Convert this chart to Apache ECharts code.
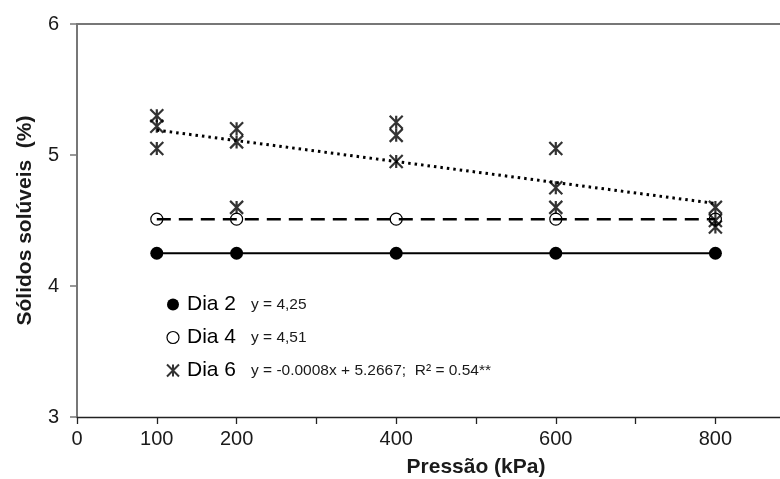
<!DOCTYPE html>
<html>
<head>
<meta charset="utf-8">
<script src="https://cdn.jsdelivr.net/npm/echarts@6/dist/echarts.min.js"></script>
<style>html,body{margin:0;padding:0;background:#fff}#c{width:780px;height:479px}</style>
</head>
<body>
<div id="c"></div>
<script>
const pressures = [100, 200, 400, 600, 800];
const dia2 = [4.25, 4.25, 4.25, 4.25, 4.25];
const dia4 = [4.51, 4.51, 4.51, 4.51, 4.51];
const dia6Rep1 = [5.30, 5.20, 5.25, 5.05, 4.60];
const dia6Rep2 = [5.22, 5.10, 5.15, 4.75, 4.50];
const dia6Rep3 = [5.05, 4.60, 4.95, 4.60, 4.45];
const trendX = [100, 800];
const trendY = [5.19, 4.63];
const xTickLabels = [0, 100, 200, 400, 600, 800];
const legendNames = ['Dia 2', 'Dia 4', 'Dia 6'];
const legendEquations = {
  'Dia 2': 'y = 4,25',
  'Dia 4': 'y = 4,51',
  'Dia 6': 'y = -0.0008x + 5.2667;  R² = 0.54**'
};

const FONT = "'Liberation Sans', Arial, sans-serif";
const STAR = 'path://M0,0L10,10M10,0L0,10M5,0L5,10';

const pairs = (xs, ys) => xs.map((x, i) => [x, ys[i]]);
const dia6 = [].concat(pairs(pressures, dia6Rep1), pairs(pressures, dia6Rep2), pairs(pressures, dia6Rep3));

const chart = echarts.init(document.getElementById('c'), null, {renderer: 'canvas'});
chart.setOption({
  animation: false,
  backgroundColor: '#fff',
  textStyle: {fontFamily: FONT},
  grid: {left: 77, top: 24, width: 798, height: 393, containLabel: false, outerBoundsMode: 'none'},
  xAxis: [{
    type: 'value', min: 0, max: 1000, interval: 100,
    axisLine: {show: true, lineStyle: {color: '#222', width: 1.3}},
    axisTick: {show: true, inside: false, length: 7, lineStyle: {color: '#222', width: 1.3}},
    splitLine: {show: false},
    axisLabel: {
      fontSize: 20, color: '#1a1a1a', margin: 12, fontFamily: FONT,
      formatter: v => xTickLabels.indexOf(v) >= 0 ? String(v) : ''
    },
    name: 'Pressão (kPa)', nameLocation: 'middle', nameGap: 40,
    nameTextStyle: {fontSize: 21, fontWeight: 'bold', color: '#1a1a1a', fontFamily: FONT}
  }, {
    type: 'value', position: 'top', min: 0, max: 1000,
    axisLine: {show: true, onZero: false, lineStyle: {color: '#777', width: 2}},
    axisTick: {show: false}, axisLabel: {show: false}, splitLine: {show: false}
  }],
  yAxis: {
    type: 'value', min: 3, max: 6, interval: 1,
    axisLine: {show: true, lineStyle: {color: '#777', width: 2}},
    axisTick: {show: true, inside: false, length: 7, lineStyle: {color: '#777', width: 1.5}},
    splitLine: {show: false},
    axisLabel: {fontSize: 20, color: '#1a1a1a', margin: 18, fontFamily: FONT},
    name: 'Sólidos solúveis  (%)', nameLocation: 'middle', nameGap: 41, nameRotate: 90,
    nameTextStyle: {fontSize: 21, fontWeight: 'bold', color: '#1a1a1a', fontFamily: FONT}
  },
  legend: {
    orient: 'vertical', left: 161, top: 289, itemGap: 12,
    itemWidth: 14, itemHeight: 12,
    data: [
      {name: 'Dia 2', icon: 'circle', itemStyle: {color: '#000', borderWidth: 0}},
      {name: 'Dia 4', icon: 'circle', itemStyle: {color: '#fff', borderColor: '#000', borderWidth: 1.2}},
      {name: 'Dia 6', icon: STAR, itemStyle: {color: 'rgba(0,0,0,0)', borderColor: '#000', borderWidth: 2}}
    ],
    formatter: name => '{a|' + name + '}{b|' + legendEquations[name] + '}',
    textStyle: {
      rich: {
        a: {fontSize: 21, color: '#000', width: 64, padding: [0, 0, 0, 2], lineHeight: 21, fontFamily: FONT},
        b: {fontSize: 15.5, color: '#1a1a1a', lineHeight: 21, fontFamily: FONT}
      }
    }
  },
  series: [
    {
      name: 'Dia 2', type: 'line', data: pairs(pressures, dia2),
      symbol: 'circle', symbolSize: 13,
      itemStyle: {color: '#000'},
      lineStyle: {color: '#000', width: 2}
    },
    {
      name: 'Dia 4', type: 'line', data: pairs(pressures, dia4),
      symbol: 'circle', symbolSize: 12,
      itemStyle: {color: 'rgba(0,0,0,0)', borderColor: '#000', borderWidth: 1.2},
      lineStyle: {color: '#000', width: 2.5, type: [14, 8]},
      z: 3
    },
    {
      name: 'Dia 6 trend', type: 'line', data: pairs(trendX, trendY),
      symbol: 'none',
      lineStyle: {color: '#000', width: 3, type: [2.5, 4]},
      z: 2
    },
    {
      name: 'Dia 6', type: 'scatter', data: dia6,
      symbol: STAR, symbolSize: 13,
      itemStyle: {color: 'rgba(0,0,0,0)', borderColor: '#000', borderWidth: 2.2},
      z: 4
    }
  ]
});
</script>
</body>
</html>
